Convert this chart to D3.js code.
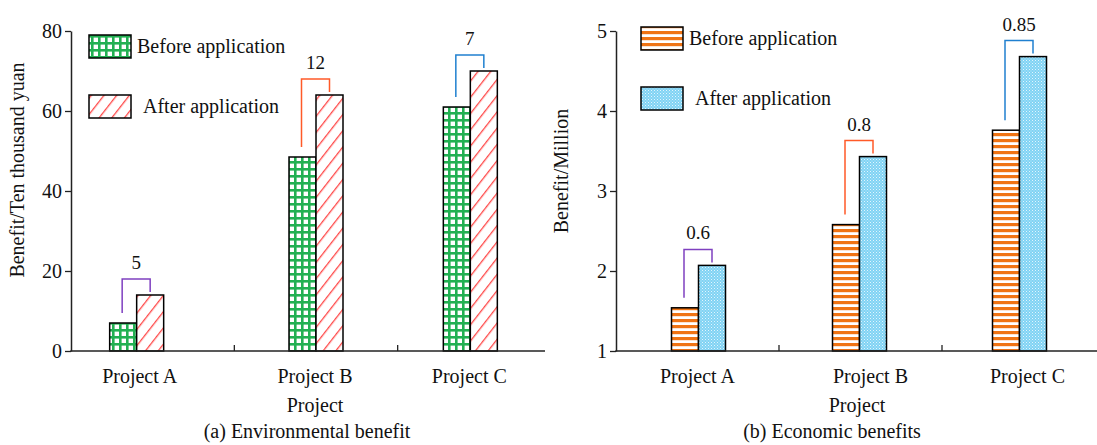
<!DOCTYPE html>
<html>
<head>
<meta charset="utf-8">
<script src="https://cdn.jsdelivr.net/npm/d3@7"></script>
<style>
  body { margin: 0; background: #fff; }
  svg text { font-family: "Liberation Serif", "Times New Roman", serif; fill: #111; }
</style>
</head>
<body>
<div class="main"></div>
<script>
// values
const categories = ['Project A', 'Project B', 'Project C']
const seriesNames = ['Before application', 'After application']

const envBefore = [7, 48.5, 61]
const envAfter = [14, 64, 70]
const envDiff = ['5', '12', '7']
const envTicks = [0, 20, 40, 60, 80]

const ecoBefore = [1.54, 2.58, 3.76]
const ecoAfter = [2.07, 3.43, 4.68]
const ecoDiff = ['0.6', '0.8', '0.85']
const ecoTicks = [1, 2, 3, 4, 5]

const bracketColors = ['#7f40c0', '#ff5a28', '#2080d0']

const W = 1097, H = 445
let svg = d3.select('.main').append('svg').attr('width', W).attr('height', H)

// fill patterns
let defs = svg.append('defs')

let grid = defs.append('pattern').attr('id', 'grid').attr('patternUnits', 'userSpaceOnUse')
  .attr('width', 7).attr('height', 7)
grid.append('rect').attr('width', 7).attr('height', 7).attr('fill', '#fff')
grid.append('rect').attr('width', 7).attr('height', 2.6).attr('fill', '#22b052')
grid.append('rect').attr('width', 2.6).attr('height', 7).attr('fill', '#22b052')

let hatch = defs.append('pattern').attr('id', 'hatch').attr('patternUnits', 'userSpaceOnUse')
  .attr('width', 10).attr('height', 10).attr('patternTransform', 'rotate(38)')
hatch.append('rect').attr('width', 10).attr('height', 10).attr('fill', '#fff')
hatch.append('rect').attr('width', 1.3).attr('height', 10).attr('fill', '#ff4848')

let stripes = defs.append('pattern').attr('id', 'stripes').attr('patternUnits', 'userSpaceOnUse')
  .attr('width', 6).attr('height', 6)
stripes.append('rect').attr('width', 6).attr('height', 6).attr('fill', '#fff')
stripes.append('rect').attr('y', 1).attr('width', 6).attr('height', 3.2).attr('fill', '#f07414')

let dots = defs.append('pattern').attr('id', 'dots').attr('patternUnits', 'userSpaceOnUse')
  .attr('width', 3).attr('height', 3)
dots.append('rect').attr('width', 3).attr('height', 3).attr('fill', '#80d3f4')
dots.append('rect').attr('width', 1).attr('height', 1).attr('fill', '#e2f5fd')
dots.append('rect').attr('x', 1.5).attr('y', 1.5).attr('width', 1).attr('height', 1).attr('fill', '#c8ecfa')

function drawPanel(p) {
  let x = d3.scaleBand().domain(categories).range(p.xRange)
  let y = d3.scaleLinear().domain(p.yDomain).range([351, 31])
  let barW = 27
  let g = svg.append('g')

  // bars
  let before = p.before.map((v, i) => ({cat: categories[i], v: v}))
  let after = p.after.map((v, i) => ({cat: categories[i], v: v}))
  let cx = (d, i) => x(d.cat) + x.bandwidth() / 2 + p.groupShift[i]

  g.selectAll('rect.before').data(before).enter().append('rect')
    .attr('x', (d, i) => cx(d, i) - barW)
    .attr('y', d => y(d.v))
    .attr('width', barW)
    .attr('height', d => y(p.yDomain[0]) - y(d.v))
    .attr('fill', p.fills[0]).attr('stroke', '#000').attr('stroke-width', 1.5)

  g.selectAll('rect.after').data(after).enter().append('rect')
    .attr('x', (d, i) => cx(d, i))
    .attr('y', d => y(d.v))
    .attr('width', barW)
    .attr('height', d => y(p.yDomain[0]) - y(d.v))
    .attr('fill', p.fills[1]).attr('stroke', '#000').attr('stroke-width', 1.5)

  // difference brackets
  before.forEach((d, i) => {
    let xl = cx(d, i) - barW / 2 - 1
    let xr = cx(d, i) + barW / 2
    let top = y(after[i].v) - 16
    g.append('path')
      .attr('d', `M${xl},${y(d.v) - 10}V${top}H${xr}V${y(after[i].v) - 3}`)
      .attr('fill', 'none').attr('stroke', bracketColors[i]).attr('stroke-width', 1.5)
    g.append('text').attr('x', (xl + xr) / 2).attr('y', top - 10)
      .attr('text-anchor', 'middle').attr('font-size', 19).text(p.diff[i])
  })

  // y axis
  let yAxis = d3.axisLeft(y).tickValues(p.ticks).tickFormat(d3.format('d'))
    .tickSize(6).tickPadding(3).tickSizeOuter(0)
  let ya = g.append('g').attr('transform', `translate(${p.xAxisStart},0)`).call(yAxis)
  ya.attr('font-family', null)
  ya.select('.domain').attr('stroke', '#222').attr('stroke-width', 1.5)
  ya.selectAll('.tick line').attr('stroke', '#222').attr('stroke-width', 1.3)
  ya.selectAll('.tick text').attr('font-size', 20)

  // x axis
  g.append('line').attr('x1', p.xAxisStart - 0.7).attr('x2', p.xAxisEnd)
    .attr('y1', 351).attr('y2', 351).attr('stroke', '#222').attr('stroke-width', 1.5)
  g.selectAll('line.sep').data(categories.slice(1)).enter().append('line')
    .attr('x1', d => x(d)).attr('x2', d => x(d))
    .attr('y1', 351).attr('y2', 345).attr('stroke', '#222').attr('stroke-width', 1.3)
  g.selectAll('text.cat').data(categories).enter().append('text')
    .attr('x', (d, i) => x(d) + x.bandwidth() / 2 + p.labelShift[i])
    .attr('y', 383).attr('text-anchor', 'middle').attr('font-size', 20).text(d => d)

  g.append('text').attr('x', p.titleX).attr('y', 412).attr('text-anchor', 'middle')
    .attr('font-size', 20).text('Project')
  g.append('text').attr('x', p.captionX).attr('y', 438).attr('text-anchor', 'middle')
    .attr('font-size', 20).text(p.caption)
  g.append('text').attr('transform', `translate(${p.yTitleX},${p.yTitleY}) rotate(-90)`)
    .attr('text-anchor', 'middle').attr('font-size', 20).text(p.yTitle)

  // legend
  seriesNames.forEach((s, i) => {
    let ly = p.legend[1] + i * 60
    g.append('rect').attr('x', p.legend[0]).attr('y', ly).attr('width', 42).attr('height', 23)
      .attr('fill', p.fills[i]).attr('stroke', '#000').attr('stroke-width', 1.5)
    g.append('text').attr('x', p.legend[0] + 48 + i * 6).attr('y', ly + 18)
      .attr('font-size', 20).text(s)
  })
}

drawPanel({
  before: envBefore, after: envAfter, diff: envDiff, ticks: envTicks,
  yDomain: [0, 80], xRange: [71, 561], groupShift: [-16, 0, -9], labelShift: [-13, -1, -10],
  xAxisStart: 71, xAxisEnd: 545,
  fills: ['url(#grid)', 'url(#hatch)'],
  yTitle: 'Benefit/Ten thousand yuan', yTitleX: 24, yTitleY: 170,
  titleX: 315, captionX: 307, caption: '(a) Environmental benefit',
  legend: [89, 35]
})

drawPanel({
  before: ecoBefore, after: ecoAfter, diff: ecoDiff, ticks: ecoTicks,
  yDomain: [1, 5], xRange: [616, 1105], groupShift: [1, -1, -4], labelShift: [0, 10, 4],
  xAxisStart: 616, xAxisEnd: 1097,
  fills: ['url(#stripes)', 'url(#dots)'],
  yTitle: 'Benefit/Million', yTitleX: 568, yTitleY: 171,
  titleX: 857, captionX: 832, caption: '(b) Economic benefits',
  legend: [641, 27]
})
</script>
</body>
</html>
